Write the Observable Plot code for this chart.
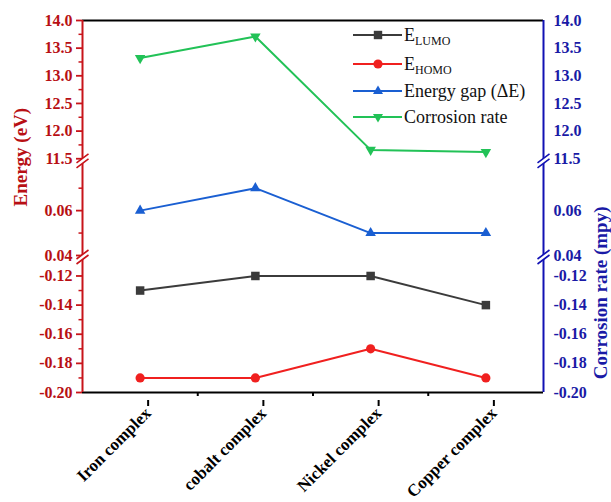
<!DOCTYPE html>
<html><head><meta charset="utf-8">
<script src="https://cdn.jsdelivr.net/npm/d3@7"></script>
<script src="https://cdn.jsdelivr.net/npm/@observablehq/plot@0.6"></script>
<style>
body{margin:0;background:#fff;}
#wrap{position:relative;width:611px;height:502px;}
#legend{position:absolute;left:0;top:0;}
#wrap svg, #wrap svg text{font-family:"Liberation Serif", "Times New Roman", serif !important;}
</style></head><body><div id="wrap"></div>
<script>
const categories = ["Iron complex", "cobalt complex", "Nickel complex", "Copper complex"];
const eLUMO = [-0.13, -0.12, -0.12, -0.14];
const eHOMO = [-0.19, -0.19, -0.17, -0.19];
const energyGap = [0.06, 0.07, 0.05, 0.05];
const corrosionRate = [13.32, 13.71, 11.66, 11.62];
const majorTicks = [-0.20, -0.18, -0.16, -0.14, -0.12, 0.04, 0.06, 11.5, 12.0, 12.5, 13.0, 13.5, 14.0];
const minorTicks = [-0.19, -0.17, -0.15, -0.13, 0.05, 0.07, 11.75, 12.25, 12.75, 13.25, 13.75];
const breakValues = [-0.034, 11.46];
const seriesNames = ["E_LUMO", "E_HOMO", "Energy gap (ΔE)", "Corrosion rate"];

const C = {lumo: "#3b3b3b", homo: "#f0201f", gap: "#1a5fd2", rate: "#22c257",
  leftAxis: "#c8141a", leftText: "#b80f14", rightAxis: "#1212b4", rightText: "#1a1aa6"};
const font = "'Liberation Serif', 'Times New Roman', serif";
const fmt = d => Math.abs(d) < 1 ? d.toFixed(2) : d.toFixed(1);

const series = [
  {values: eLUMO, color: C.lumo, symbol: "square", r: 4.8, rotate: 0},
  {values: eHOMO, color: C.homo, symbol: "circle", r: 4.6, rotate: 0},
  {values: energyGap, color: C.gap, symbol: "triangle", r: 3.9, rotate: 0},
  {values: corrosionRate, color: C.rate, symbol: "triangle", r: 3.9, rotate: 180}
];

const breakFill = {draw(ctx) { ctx.moveTo(-2.6, -0.5); ctx.lineTo(2.6, -4.4); ctx.lineTo(2.6, 0.5); ctx.lineTo(-2.6, 4.4); ctx.closePath(); }};
const breakLines = {draw(ctx) { ctx.moveTo(-6, 2); ctx.lineTo(6, -7); ctx.moveTo(-6, 7); ctx.lineTo(6, -2); }};

const marks = [];
for (const s of series) {
  marks.push(Plot.line(s.values, {x: (d, i) => i, y: d => d, stroke: s.color, strokeWidth: 2}));
  marks.push(Plot.dot(s.values, {x: (d, i) => i, y: d => d, fill: s.color, stroke: "none", symbol: s.symbol, r: s.r, rotate: s.rotate}));
}
marks.push(
  Plot.ruleY([14.0], {stroke: "#000", strokeWidth: 2}),
  Plot.ruleY([-0.20], {stroke: "#000", strokeWidth: 2}),
  Plot.ruleX([-0.5], {y1: -0.20, y2: 14.0, stroke: C.leftAxis, strokeWidth: 2}),
  Plot.ruleX([3.5], {y1: -0.20, y2: 14.0, stroke: C.rightAxis, strokeWidth: 2}),
  Plot.axisX({ticks: [0, 1, 2, 3], tickFormat: d => categories[d], tickRotate: -45, tickSize: 6, tickPadding: 4,
    dx: 8, dy: 8,
    stroke: "#000", fill: "#000", strokeWidth: 2, fontSize: 17, fontWeight: "bold", fontFamily: font, label: null}),
  Plot.axisX({ticks: [0.5, 1.5, 2.5], tickFormat: () => "", tickSize: 4, stroke: "#000", strokeWidth: 2, label: null}),
  Plot.axisY({anchor: "left", ticks: majorTicks, tickFormat: fmt, tickSize: 6, tickPadding: 4,
    stroke: C.leftAxis, fill: C.leftText, strokeWidth: 1.8, fontSize: 16, fontWeight: "bold", fontFamily: font, label: null}),
  Plot.axisY({anchor: "left", ticks: minorTicks, tickFormat: () => "", tickSize: 3.5, stroke: C.leftAxis, strokeWidth: 1.5, label: null}),
  Plot.axisY({anchor: "right", ticks: majorTicks, tickFormat: fmt, tickSize: 0, tickPadding: 10,
    fill: C.rightText, fontSize: 16, fontWeight: "bold", fontFamily: font, label: null}),
  Plot.dot(breakValues, {x: -0.5, y: d => d, symbol: breakFill, fill: "#fff", stroke: "none", r: 5}),
  Plot.dot(breakValues, {x: -0.5, y: d => d, symbol: breakLines, fill: "none", stroke: C.leftAxis, strokeWidth: 1.6, r: 5}),
  Plot.dot(breakValues, {x: 3.5, y: d => d, symbol: breakFill, fill: "#fff", stroke: "none", r: 5}),
  Plot.dot(breakValues, {x: 3.5, y: d => d, symbol: breakLines, fill: "none", stroke: C.rightAxis, strokeWidth: 1.6, r: 5}),
  Plot.text(["Energy (eV)"], {frameAnchor: "left", rotate: -90, dx: -62, fill: C.leftText, fontSize: 19, fontWeight: "bold", fontFamily: font}),
  Plot.text(["Corrosion rate (mpy)"], {frameAnchor: "right", rotate: -90, dx: 57, fill: C.rightText, fontSize: 19, fontWeight: "bold", fontFamily: font})
);

const chart = Plot.plot({
  width: 611, height: 502,
  marginLeft: 82, marginRight: 68, marginTop: 20, marginBottom: 110,
  style: {fontFamily: font, background: "#fff"},
  x: {type: "linear", domain: [-0.5, 3.5], range: [82, 543], label: null},
  y: {type: "linear", domain: [-0.20, -0.108, 0.04, 0.081, 11.45, 14.0], range: [392, 258, 255, 163, 161, 20], label: null},
  marks
});
const wrap = document.getElementById("wrap");
wrap.appendChild(chart);

// legend
const rows = [
  {y: 35, color: C.lumo, sym: "square", main: "E", sub: "LUMO"},
  {y: 64, color: C.homo, sym: "circle", main: "E", sub: "HOMO"},
  {y: 91, color: C.gap, sym: "up", main: seriesNames[2]},
  {y: 117, color: C.rate, sym: "down", main: seriesNames[3]}
];
const ns = "http://www.w3.org/2000/svg";
const lg = document.createElementNS(ns, "svg");
lg.setAttribute("id", "legend");
lg.setAttribute("width", 611); lg.setAttribute("height", 160);
let html = "";
for (const r of rows) {
  html += `<line x1="353" x2="402" y1="${r.y}" y2="${r.y}" stroke="${r.color}" stroke-width="2"/>`;
  const cx = 378, cy = r.y;
  if (r.sym === "square") html += `<rect x="${cx-4.2}" y="${cy-4.2}" width="8.4" height="8.4" fill="${r.color}"/>`;
  if (r.sym === "circle") html += `<circle cx="${cx}" cy="${cy}" r="4.6" fill="${r.color}"/>`;
  if (r.sym === "up") html += `<path d="M${cx},${cy-5.5}L${cx+5},${cy+3}L${cx-5},${cy+3}Z" fill="${r.color}"/>`;
  if (r.sym === "down") html += `<path d="M${cx},${cy+5.5}L${cx+5},${cy-3}L${cx-5},${cy-3}Z" fill="${r.color}"/>`;
  html += `<text x="404" y="${r.y + 6}" font-size="18" fill="#111">${r.main}` +
    (r.sub ? `<tspan font-size="12" dy="4">${r.sub}</tspan>` : "") + `</text>`;
}
lg.innerHTML = html;
wrap.appendChild(lg);
</script></body></html>
